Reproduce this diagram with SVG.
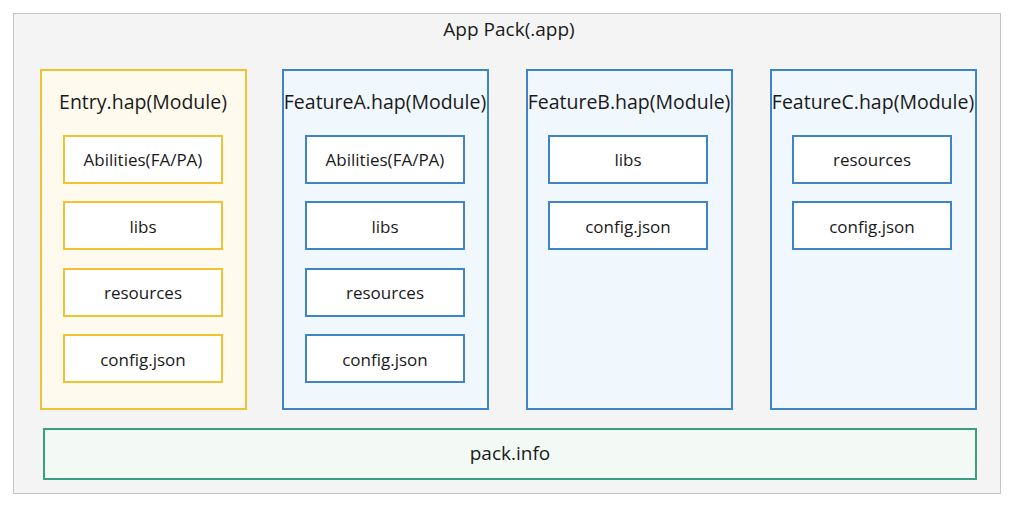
<svg xmlns="http://www.w3.org/2000/svg" width="1013" height="508" viewBox="0 0 1013 508">
<style>
text{font-family:"Open Sans","Noto Sans","Liberation Sans",sans-serif;fill:#1a1a1a;text-anchor:middle;dominant-baseline:central}
.title{font-size:19px}
.mod{font-size:19.5px}
.item{font-size:17px}
.ent{fill:#fffaee;stroke:#f1c232;stroke-width:2}
.feat{fill:#f0f7fd;stroke:#3d85c6;stroke-width:2}
.ient{fill:#fff;stroke:#f1c232;stroke-width:2}
.ifeat{fill:#fff;stroke:#3d85c6;stroke-width:2}
</style>
<rect width="1013" height="508" fill="#fff"/>
<g id="app">
<rect x="13.5" y="13.5" width="987" height="480" fill="#f4f4f4" stroke="#c4c4c4" stroke-width="1"/>
<text class="title" x="509" y="29">App Pack(.app)</text>
</g>
<g id="entry">
<rect class="ent" x="41" y="70" width="205" height="339"/>
<text class="mod" x="143" y="101">Entry.hap(Module)</text>
<rect class="ient" x="64" y="136" width="158" height="47"/><text class="item" x="143" y="159">Abilities(FA/PA)</text>
<rect class="ient" x="64" y="202" width="158" height="47"/><text class="item" x="143" y="226">libs</text>
<rect class="ient" x="64" y="269" width="158" height="47"/><text class="item" x="143" y="292">resources</text>
<rect class="ient" x="64" y="335" width="158" height="47"/><text class="item" x="143" y="359">config.json</text>
</g>
<g id="featureA">
<rect class="feat" x="283" y="70" width="205" height="339"/>
<text class="mod" x="385" y="101">FeatureA.hap(Module)</text>
<rect class="ifeat" x="306" y="136" width="158" height="47"/><text class="item" x="385" y="159">Abilities(FA/PA)</text>
<rect class="ifeat" x="306" y="202" width="158" height="47"/><text class="item" x="385" y="226">libs</text>
<rect class="ifeat" x="306" y="269" width="158" height="47"/><text class="item" x="385" y="292">resources</text>
<rect class="ifeat" x="306" y="335" width="158" height="47"/><text class="item" x="385" y="359">config.json</text>
</g>
<g id="featureB">
<rect class="feat" x="527" y="70" width="205" height="339"/>
<text class="mod" x="629" y="101">FeatureB.hap(Module)</text>
<rect class="ifeat" x="549" y="136" width="158" height="47"/><text class="item" x="628" y="159">libs</text>
<rect class="ifeat" x="549" y="202" width="158" height="47"/><text class="item" x="628" y="226">config.json</text>
</g>
<g id="featureC">
<rect class="feat" x="771" y="70" width="205" height="339"/>
<text class="mod" x="873" y="101">FeatureC.hap(Module)</text>
<rect class="ifeat" x="793" y="136" width="158" height="47"/><text class="item" x="872" y="159">resources</text>
<rect class="ifeat" x="793" y="202" width="158" height="47"/><text class="item" x="872" y="226">config.json</text>
</g>
<g id="packinfo">
<rect x="44" y="429" width="932" height="50" fill="#f3faf6" stroke="#3a9e82" stroke-width="2"/>
<text class="title" x="510" y="453">pack.info</text>
</g>
<g id="connectors"/>
</svg>
